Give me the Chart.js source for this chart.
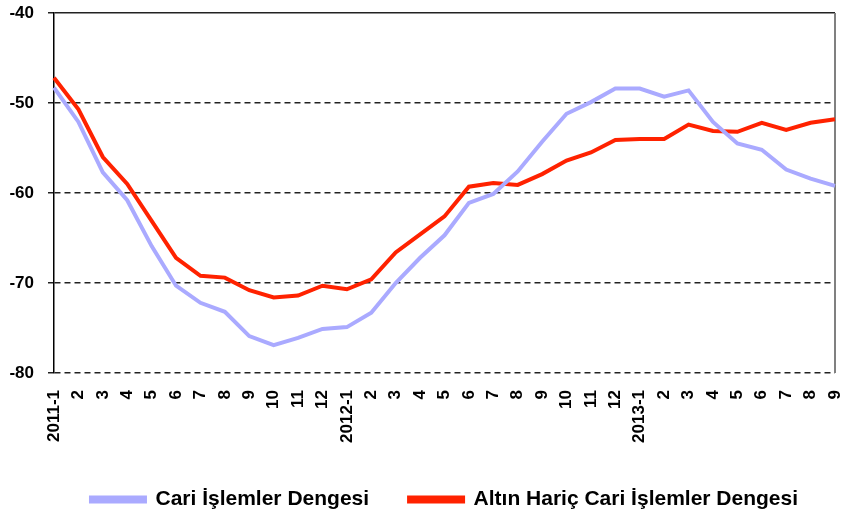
<!DOCTYPE html>
<html>
<head>
<meta charset="utf-8">
<script src="https://cdn.jsdelivr.net/npm/chart.js@4"></script>
<style>
  body { margin: 0; background: #fff; }
  #wrap { width: 842px; height: 511px; }
</style>
</head>
<body>
<div id="wrap"><canvas id="chart" width="842" height="511"></canvas></div>
<script>
'use strict';

// Data
let months = ['2011-1', '2', '3', '4', '5', '6', '7', '8', '9', '10', '11', '12',
  '2012-1', '2', '3', '4', '5', '6', '7', '8', '9', '10', '11', '12',
  '2013-1', '2', '3', '4', '5', '6', '7', '8', '9'];

let cariDenge = [-48.3, -52.1, -57.7, -60.8, -65.9, -70.3, -72.2, -73.2, -75.9, -76.9, -76.1, -75.1,
  -74.9, -73.3, -70.0, -67.2, -64.7, -61.1, -60.1, -57.6, -54.3, -51.2, -49.9, -48.4,
  -48.4, -49.3, -48.6, -52.1, -54.5, -55.2, -57.4, -58.4, -59.2];

let altinHaric = [-47.2, -50.7, -56.0, -59.0, -63.1, -67.2, -69.2, -69.4, -70.8, -71.6, -71.4, -70.3,
  -70.7, -69.6, -66.6, -64.6, -62.6, -59.3, -58.9, -59.1, -57.9, -56.4, -55.5, -54.1,
  -54.0, -54.0, -52.4, -53.1, -53.2, -52.2, -53.0, -52.2, -51.8];

let yMin = -80;
let yMax = -40;
let yStep = 10;

const ctx = document.getElementById('chart').getContext('2d');

// right border of the plot area, legend centred under the plot area
let frameBorder = {
  id: 'frameBorder',
  afterLayout(chart) {
    let area = chart.chartArea;
    let shift = (area.left + area.right) / 2 - (chart.legend.left + chart.legend.right) / 2;
    chart.legend.left += shift;
    chart.legend.right += shift;
  },
  beforeDatasetsDraw(chart) {
    let area = chart.chartArea;
    let c = chart.ctx;
    c.save();
    c.strokeStyle = '#808080';
    c.lineWidth = 2;
    c.beginPath();
    c.moveTo(area.right, area.top);
    c.lineTo(area.right, area.bottom);
    c.stroke();
    c.restore();
  }
};

let chartObject = {
  type: 'line',
  data: {
    labels: months,
    datasets: [{
      label: 'Cari İşlemler Dengesi',
      data: cariDenge,
      borderColor: '#aaaaff',
      backgroundColor: '#aaaaff',
      borderWidth: 4,
      pointRadius: 0,
      tension: 0
    },
    {
      label: 'Altın Hariç Cari İşlemler Dengesi',
      data: altinHaric,
      borderColor: '#ff2200',
      backgroundColor: '#ff2200',
      borderWidth: 4,
      pointRadius: 0,
      tension: 0
    }]
  },
  options: {
    responsive: false,
    animation: false,
    layout: {
      padding: { top: 13, right: 7, left: 0, bottom: -9 }
    },
    plugins: {
      tooltip: { enabled: false },
      legend: {
        position: 'bottom',
        labels: {
          boxWidth: 54,
          boxHeight: 4,
          padding: 40,
          color: '#000',
          font: { family: '"Liberation Sans", Arial, sans-serif', size: 21, weight: 'bold' }
        }
      }
    },
    scales: {
      x: {
        offset: false,
        grid: { display: false },
        border: { display: false },
        ticks: {
          autoSkip: false,
          maxRotation: 90,
          minRotation: 90,
          padding: 9,
          color: '#000',
          font: { family: '"Liberation Sans", Arial, sans-serif', size: 17, weight: 'bold' }
        },
        afterFit(scale) {
          scale.height = 76;
          scale.paddingLeft = 0;
          scale.paddingRight = 0;
        }
      },
      y: {
        min: yMin,
        max: yMax,
        grid: {
          color: '#222',
          lineWidth: 1.5,
          tickLength: 6
        },
        border: {
          display: true,
          color: '#000',
          width: 1.5,
          dash(context) {
            if (context.tick && context.tick.value === yMax) {
              return [];
            }
            return [6, 4];
          }
        },
        ticks: {
          stepSize: yStep,
          padding: 14,
          color: '#000',
          font: { family: '"Liberation Sans", Arial, sans-serif', size: 17, weight: 'bold' }
        },
        afterFit(scale) {
          scale.width = 54;
          scale.paddingTop = 0;
          scale.paddingBottom = 0;
        }
      }
    }
  },
  plugins: [frameBorder]
};

// eslint-disable-next-line
const myChart = new Chart(ctx, chartObject);
</script>
</body>
</html>
